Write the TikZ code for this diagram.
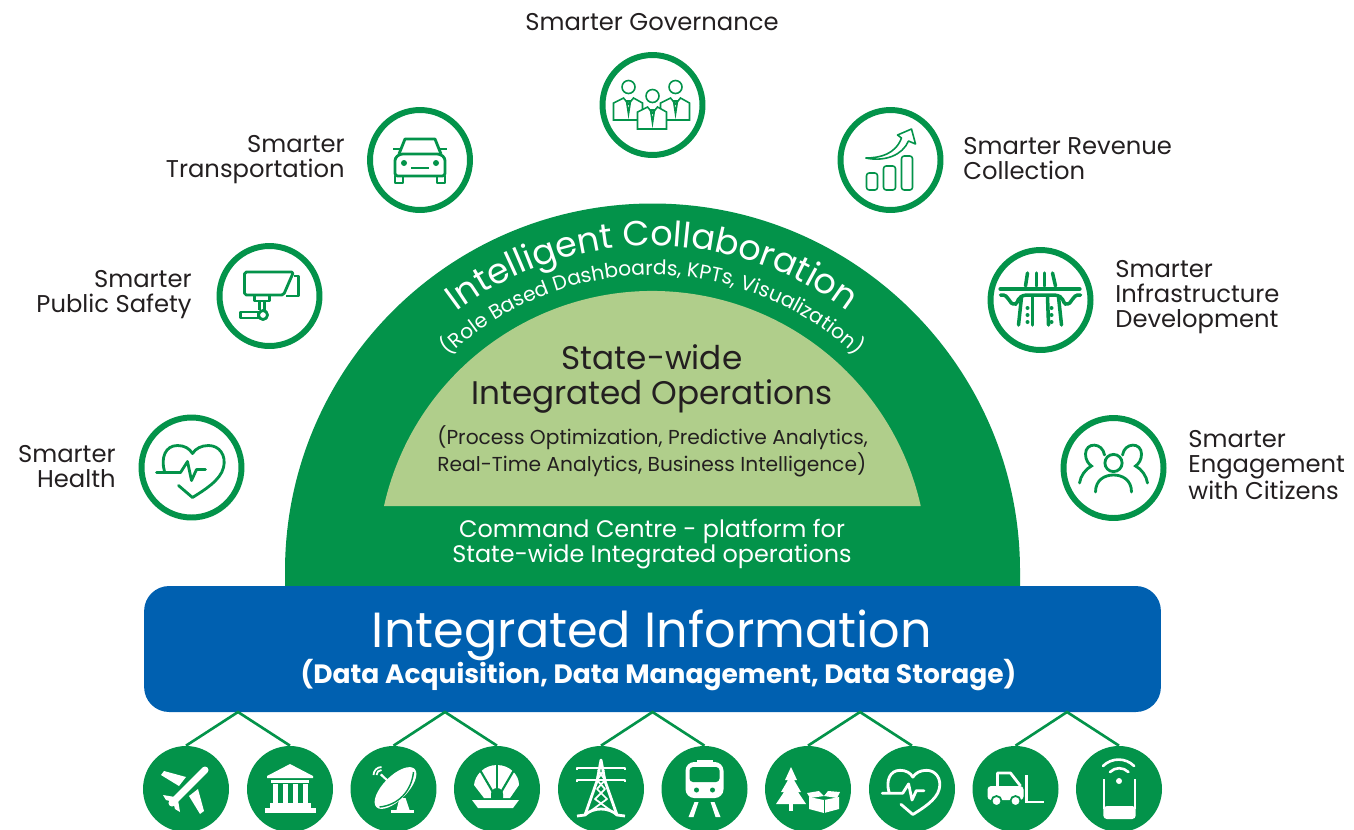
\documentclass[tikz,border=0pt]{standalone}
\usepackage{fontspec}
\setmainfont{Poppins}
\usepackage{tikz}
\usetikzlibrary{calc,positioning,decorations.text}

\definecolor{dgreen}{HTML}{03934A}
\definecolor{lgreen}{HTML}{B0CE8B}
\definecolor{iblue}{HTML}{0060B0}
\definecolor{ink}{HTML}{231F20}

\newcommand{\labelfont}{\fontsize{13.8}{14.2}\selectfont}
\newcommand{\collabfont}{\fontsize{19.9}{22}\selectfont}
\newcommand{\rolefont}{\fontsize{11.5}{13}\selectfont}
\newcommand{\opsfont}{\fontsize{18.6}{19.4}\selectfont}
\newcommand{\procfont}{\fontsize{11.5}{15.4}\selectfont}
\newcommand{\cmdfont}{\fontsize{13.6}{14.2}\selectfont}
\newcommand{\infofont}{\fontsize{28.1}{30}\selectfont}
\newcommand{\datafont}{\fontsize{15.1}{16}\bfseries\selectfont}

\newcommand{\hearticon}[1]{
  \draw[#1, line join=round, line cap=round] (-27,4) .. controls (-31,-10) and (-26,-22) .. (-14,-22) .. controls (-7,-22) and (-2,-19) .. (1,-14) .. controls (4,-19) and (10,-22) .. (17,-22) .. controls (28,-22) and (35,-12) .. (32,0) .. controls (29,13) and (12,23) .. (1,30) -- (-13,18);
  \draw[#1, line join=round, line cap=round] (-35,5) -- (-11,5) -- (-4,-6) -- (0,13) -- (5,2) -- (14,2);
}
\newcommand{\suitman}[2]{
  \draw[fill=white, thinline] (#1-15,#2+33) -- (#1-15,#2+16) -- (#1-5,#2+11) -- (#1,#2+17) -- (#1+5,#2+11) -- (#1+14,#2+16) -- (#1+14,#2+33) -- cycle;
  \draw[thinline] (#1-2,#2+14) -- (#1,#2+27) -- (#1+2,#2+14) -- cycle;
  \draw[fill=white, thinline] (#1,#2) circle (6.5);
}

\tikzset{
  ringnode/.style={circle, draw=dgreen, fill=white, line width=3.4pt, minimum size=2cm, inner sep=0pt},
  dotnode/.style={circle, fill=dgreen, minimum size=1.72cm, inner sep=0pt},
  sidelabel/.style={text=ink, font=\labelfont, inner sep=0pt},
  link/.style={draw=dgreen, line width=1.5pt},
  iconline/.style={draw=dgreen, line width=1.6pt},
  thinline/.style={draw=dgreen, line width=0.9pt},
  iconwhite/.style={draw=white, line width=1.6pt},
  iconcut/.style={draw=dgreen, line width=0.8pt},
}

\begin{document}
\begin{tikzpicture}[x=0.02cm, y=-0.02cm]
      \useasboundingbox (0,0) rectangle (1354,829);

      % dome
      \fill[dgreen] (285,595) -- (285,571) arc[start angle=180, end angle=360, radius=367.5] -- (1020,595) -- cycle;
      \fill[lgreen] (384,506) arc[start angle=192.6, end angle=347.4, radius=275] -- cycle;
      \coordinate (domecentre) at (652.5,571);

      \path[decorate, decoration={text along path, text align=center, text={|\collabfont\color{white}|Intelligent Collaboration}}] (domecentre) ++(210:325) arc[start angle=210, end angle=330, radius=325];
      \path[decorate, decoration={text along path, text align=center, text={|\rolefont\color{white}|(Role Based Dashboards, KPTs, Visualization)}}] (domecentre) ++(210:296) arc[start angle=210, end angle=330, radius=296];

      \node[text=ink, font=\opsfont, align=center, inner sep=0pt] (opstitle) at (652,379) {State-wide\\Integrated Operations};
      \node[text=ink, font=\procfont, align=left, anchor=west, inner sep=0pt] (opstext) at (437,451.5) {(Process Optimization, Predictive Analytics,\\Real-Time Analytics, Business Intelligence)};
      \node[text=white, font=\cmdfont, align=center, inner sep=0pt] (command) at (652,544.5) {Command Centre - platform for\\State-wide Integrated operations};

      % information bar
      \node[fill=iblue, rounded corners=0.5cm, minimum width=20.34cm, minimum height=2.52cm, inner sep=0pt] (infobar) at (652.5,649) {};
      \node[text=white, font=\infofont, inner sep=0pt] (infotitle) at (652,635) {Integrated Information};
      \node[text=white, font=\datafont, inner sep=0pt] (infotext) at (658.5,675) {(Data Acquisition, Data Management, Data Storage)};

      % upper rings
      \node[ringnode] (govern) at (652.5,105) {};
      \node[ringnode] (transport) at (420,160) {};
      \node[ringnode] (safety) at (269.5,296) {};
      \node[ringnode] (health) at (191.5,467.5) {};
      \node[ringnode] (revenue) at (890.5,160) {};
      \node[ringnode] (infra) at (1040.5,300) {};
      \node[ringnode] (citizens) at (1113.5,468) {};

      \node[sidelabel, align=center] (governlabel) at (652,22) {Smarter Governance};
      \node[sidelabel, align=right, anchor=east] (transportlabel) at (345,159.5) {Smarter\\Transportation};
      \node[sidelabel, align=right, anchor=east] (safetylabel) at (192,294.5) {Smarter\\Public Safety};
      \node[sidelabel, align=right, anchor=east] (healthlabel) at (116,466.5) {Smarter\\Health};
      \node[sidelabel, align=left, anchor=west] (revenuelabel) at (963,158.5) {Smarter Revenue\\Collection};
      \node[sidelabel, align=left, anchor=west] (infralabel) at (1115,297) {Smarter\\Infrastructure\\Development};
      \node[sidelabel, align=left, anchor=west] (citizenslabel) at (1188,465) {Smarter\\Engagement\\with Citizens};

      % lower dots
      \node[dotnode] (plane) at (186,789) {};
      \node[dotnode] (bank) at (290,789) {};
      \node[dotnode] (dish) at (393.5,789) {};
      \node[dotnode] (shell) at (497,789) {};
      \node[dotnode] (tower) at (601,789) {};
      \node[dotnode] (train) at (704.5,789) {};
      \node[dotnode] (forest) at (808,789) {};
      \node[dotnode] (pulse) at (912,789) {};
      \node[dotnode] (forklift) at (1015.5,789) {};
      \node[dotnode] (phone) at (1119,789) {};

      \coordinate (joint1) at (238,712);
      \coordinate (joint2) at (445,712);
      \coordinate (joint3) at (652.5,712);
      \coordinate (joint4) at (860,712);
      \coordinate (joint5) at (1067,712);
      \draw[link] (plane.north) -- (joint1) -- (bank.north);
      \draw[link] (dish.north) -- (joint2) -- (shell.north);
      \draw[link] (tower.north) -- (joint3) -- (train.north);
      \draw[link] (forest.north) -- (joint4) -- (pulse.north);
      \draw[link] (forklift.north) -- (joint5) -- (phone.north);

      % governance
      \begin{scope}[shift={(govern.center)}]
        \suitman{-24}{-18}
        \suitman{23}{-18}
        \suitman{0}{-9}
      \end{scope}

      % car
      \begin{scope}[shift={(transport.center)}, iconline, line join=round]
        \draw (-21,-6) -- (-15,-21) -- (15,-21) -- (21,-6);
        \draw[rounded corners=1.5] (-25,16) -- (-25,-2) -- (-20,-6) -- (20,-6) -- (25,-2) -- (25,16) -- cycle;
        \draw (-27,-11) -- (-20,-11);
        \draw (20,-11) -- (27,-11);
        \draw (-9,8) -- (9,8);
        \fill[dgreen] (-16,3) circle (3);
        \fill[dgreen] (16,3) circle (3);
        \draw (-25,16) rectangle (-17,23);
        \draw (17,16) rectangle (25,23);
      \end{scope}

      % camera
      \begin{scope}[shift={(safety.center)}, iconline, line join=round]
        \draw[rounded corners=1] (-25,-24) -- (24,-24) -- (14,-1) -- (-25,-1) -- cycle;
        \draw (24,-20) -- (29,-20) -- (29,0) -- (16,0);
        \draw (-15,-1) rectangle (0,5);
        \draw (-10,5) -- (-10,14);
        \draw (-5,5) -- (-5,14);
        \draw (-29,16) rectangle (-11,22);
        \draw (-6.5,19) circle (4.5);
      \end{scope}

      % heart
      \begin{scope}[shift={(health.center)}]
        \hearticon{iconline}
      \end{scope}

      % revenue
      \begin{scope}[shift={(revenue.center)}, thinline, line join=round]
        \draw[rounded corners=1.5] (-24,13) rectangle (-13,30);
        \draw[rounded corners=1.5] (-7,6) rectangle (5,30);
        \draw[rounded corners=1.5] (11,-4) rectangle (22,30);
        \draw[fill=white] (-25,-2) .. controls (-10,-2) and (5,-6) .. (11,-22) -- (7,-25) -- (21,-31) -- (25,-16) -- (18,-19) .. controls (12,-5) and (-5,2) .. (-25,-2);
      \end{scope}

      % flyover
      \begin{scope}[shift={(infra.center)}, draw=dgreen, line width=2pt, line cap=round]
        \draw[line width=2.4pt] (-40,-11) -- (39,-11);
        \draw (-13,-27) -- (-15,-14);
        \draw (-4,-27) -- (-4,-14);
        \draw (4,-27) -- (4,-14);
        \draw (12,-27) -- (15,-14);
        \draw (-40,-5) .. controls (-30,-6) and (-33,5) .. (-25,4) .. controls (-22,3) and (-24,-4) .. (-14,-5) -- (14,-5) .. controls (24,-4) and (22,3) .. (25,4) .. controls (33,5) and (30,-6) .. (40,-5);
        \draw (-19,-3) -- (-22,25);
        \draw (-8,-3) -- (-8,25);
        \draw (7,-3) -- (8,25);
        \draw (18,-3) -- (21,25);
        \fill[dgreen] (-13,8) circle (2) (-13,15) circle (2) (-13,22) circle (2);
        \fill[dgreen] (11,8) circle (2) (11,15) circle (2) (11,22) circle (2);
      \end{scope}

      % citizens
      \begin{scope}[shift={(citizens.center)}, iconline, line cap=round]
        \draw (0,-5) circle (8.6);
        \draw (-18,24) .. controls (-18,12) and (-9,7) .. (0,7) .. controls (9,7) and (18,12) .. (18,24);
        \draw (-9,-13) .. controls (-11,-26) and (-28,-26) .. (-28,-14) .. controls (-28,-8) and (-25,-4) .. (-22,-2) .. controls (-28,1) and (-33,8) .. (-34,15);
        \draw (9,-13) .. controls (11,-26) and (28,-26) .. (28,-14) .. controls (28,-8) and (25,-4) .. (22,-2) .. controls (28,1) and (33,8) .. (34,15);
      \end{scope}

      % plane
      \begin{scope}[shift={(plane.center)}]
        \draw[draw=white, line width=4pt, line cap=round] (19,-19) -- (-14,14);
        \fill[white] (-25,-14) -- (-22,-18) -- (0,-12) -- (-7,-3) -- cycle;
        \fill[white] (14,25) -- (18,22) -- (12,0) -- (3,7) -- cycle;
        \fill[white] (-23,6) -- (-11,8) -- (-12,13) -- (-20,11) -- cycle;
        \fill[white] (-6,23) -- (-8,11) -- (-13,12) -- (-11,20) -- cycle;
      \end{scope}

      % bank
      \begin{scope}[shift={(bank.center)}]
        \fill[white] (0,-25) -- (23,-13) -- (23,-11) -- (-23,-11) -- (-23,-13) -- cycle;
        \fill[white] (-19,-9) rectangle (19,-6);
        \fill[white] (-17,-5) rectangle (-12,14);
        \fill[white] (-7,-5) rectangle (-2,14);
        \fill[white] (3,-5) rectangle (8,14);
        \fill[white] (13,-5) rectangle (18,14);
        \fill[white] (-20,14) rectangle (21,19);
        \fill[white] (-25,19) rectangle (26,24);
      \end{scope}

      % dish
      \begin{scope}[shift={(dish.center)}]
        \fill[white] (6,9) -- (12,9) -- (16,21) -- (3,21) -- cycle;
        \fill[white] (-3,21) rectangle (20,24);
        \fill[white] (2,-1) ellipse [x radius=27, y radius=12, rotate=45];
        \draw[iconcut] (-14,18) .. controls (5,16) and (18,2) .. (20,-17);
        \draw[draw=white, line width=1.2pt] (2,-1) -- (-12,-14);
        \draw[draw=white, line width=1pt] (-17,-14) arc[start angle=180, end angle=270, radius=5];
        \draw[draw=white, line width=1pt] (-20,-14) arc[start angle=180, end angle=270, radius=8];
        \fill[white] (-12,-14) circle (1.5);
      \end{scope}

      % shell
      \begin{scope}[shift={(shell.center)}]
        \fill[white] (-13,9) -- (-23,-4) .. controls (-22,-14) and (-13,-24) .. (0,-24) .. controls (13,-24) and (22,-14) .. (22,-4) -- (13,9) -- cycle;
        \draw[draw=dgreen, line width=1.2pt] (0,-25) -- (0,4);
        \draw[draw=dgreen, line width=1.2pt] (-3,5) -- (-17,-19);
        \draw[draw=dgreen, line width=1.2pt] (3,5) -- (17,-19);
        \fill[dgreen] (-6,10) -- (-6,5) arc[start angle=180, end angle=360, radius=6] -- (6,10) -- cycle;
        \fill[white] (-25,11) -- (22,11) -- (16,19) -- (-19,19) -- cycle;
      \end{scope}

      % tower
      \begin{scope}[shift={(tower.center)}, iconwhite, line join=round]
        \draw (-16,26) -- (-4,-8) -- (0,-29) -- (4,-8) -- (16,26);
        \draw (-24,-19) -- (-24,-21) -- (24,-21) -- (24,-19);
        \draw (-24,-7) -- (-24,-9) -- (24,-9) -- (24,-7);
        \draw[line width=1pt] (-3,-19) -- (4,-9) -- (-4,0) -- (6,10) -- (-9,21);
        \draw[line width=1pt] (3,-19) -- (-4,-9) -- (4,0) -- (-6,10) -- (9,21);
        \draw (-24,27) -- (-16,26) .. controls (-8,18) and (8,18) .. (16,26) -- (24,27);
      \end{scope}

      % train
      \begin{scope}[shift={(train.center)}]
        \fill[white, rounded corners=5] (-19,-27) rectangle (19,9);
        \fill[white] (-8,-29) rectangle (8,-25);
        \fill[dgreen, rounded corners=2] (-15,-22) rectangle (15,-7);
        \fill[dgreen] (-8,1) circle (2.5);
        \fill[dgreen] (8,1) circle (2.5);
        \fill[white] (-10,13) -- (-6,13) -- (-11,28) -- (-16,28) -- cycle;
        \fill[white] (10,13) -- (6,13) -- (11,28) -- (16,28) -- cycle;
      \end{scope}

      % tree and box
      \begin{scope}[shift={(forest.center)}]
        \fill[white] (-17,-22) -- (-11,-9) -- (-14,-9) -- (-7,3) -- (-10,3) -- (-2,15) -- (-32,15) -- (-24,3) -- (-27,3) -- (-20,-9) -- (-23,-9) -- cycle;
        \fill[white] (-19,15) rectangle (-15,22);
        \fill[white] (1,8) -- (16,11) -- (31,8) -- (31,20) -- (16,24) -- (1,20) -- cycle;
        \fill[white] (-1,4) -- (11,2) -- (16,7) -- (2,9) -- cycle;
        \fill[white] (32,3) -- (20,2) -- (16,7) -- (29,9) -- cycle;
        \draw[iconcut, line width=0.4pt] (16,11) -- (16,24);
      \end{scope}

      % pulse
      \begin{scope}[shift={(pulse.center)}, scale=0.85]
        \hearticon{iconwhite}
      \end{scope}

      % forklift
      \begin{scope}[shift={(forklift.center)}]
        \fill[white, rounded corners=2] (-28,-3) rectangle (8,11);
        \draw[draw=white, line width=1.6pt, line join=round] (-18,-3) -- (-18,-16) -- (-5,-16) -- (5,-3);
        \draw[draw=white, line width=1.4pt] (11,-14) -- (11,13) -- (28,13);
        \draw[draw=dgreen, fill=white, line width=1pt] (-19,12) circle (5);
        \draw[draw=dgreen, fill=white, line width=1pt] (0,12) circle (5);
      \end{scope}

      % phone
      \begin{scope}[shift={(phone.center)}]
        \draw[draw=white, line width=1.6pt] (-15,-10) -- (-15,20);
        \draw[draw=white, line width=1.6pt] (16,-10) -- (16,20);
        \fill[white, rounded corners=2] (-15.7,17) rectangle (16.7,30);
        \fill[white] (0,-8) circle (3);
        \draw[draw=white, line width=1.5pt, line cap=round] (-9,-17) arc[start angle=225, end angle=315, radius=13];
        \draw[draw=white, line width=1.5pt, line cap=round] (-16,-23) arc[start angle=225, end angle=315, radius=22];
      \end{scope}
    \end{tikzpicture}
\end{document}
